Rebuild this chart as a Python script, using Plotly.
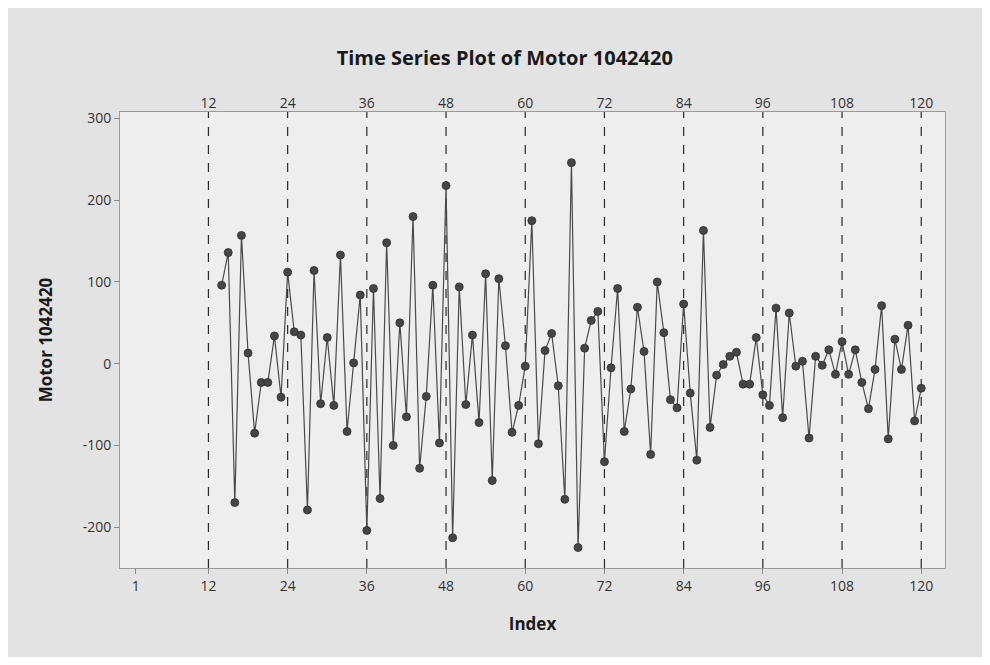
import plotly.graph_objects as go

# Data: index 14..120 (first 13 values missing after differencing)
start_index = 14
values = [96, 136, -170, 157, 13, -85, -23, -23, 34, -41,
          112, 39, 35, -179, 114, -49, 32, -51, 133, -83,
          1, 84, -204, 92, -165, 148, -100, 50, -65, 180,
          -128, -40, 96, -97, 218, -213, 94, -50, 35, -72,
          110, -143, 104, 22, -84, -51, -3, 175, -98, 16,
          37, -27, -166, 246, -225, 19, 53, 64, -120, -5,
          92, -83, -31, 69, 15, -111, 100, 38, -44, -54,
          73, -36, -118, 163, -78, -14, -1, 9, 14, -25,
          -25, 32, -38, -51, 68, -66, 62, -3, 3, -91,
          9, -2, 17, -13, 27, -13, 17, -23, -55, -7,
          71, -92, 30, -7, 47, -70, -30]
index = list(range(start_index, start_index + len(values)))

bottom_ticks = [1, 12, 24, 36, 48, 60, 72, 84, 96, 108, 120]
ref_lines = [12, 24, 36, 48, 60, 72, 84, 96, 108, 120]
y_ticks = [-200, -100, 0, 100, 200, 300]

font_family = "Open Sans, Noto Sans, sans-serif"
xrange = [-1.4, 123.6]

fig = go.Figure()
fig.add_trace(go.Scatter(
    x=index, y=values, mode="lines+markers",
    line=dict(color="#4a4a4a", width=1.2),
    marker=dict(color="#454545", size=8, line=dict(color="#2e2e2e", width=0.8)),
    showlegend=False, hoverinfo="x+y",
))
# invisible trace to activate top axis
fig.add_trace(go.Scatter(x=[ref_lines[0]], y=[0], xaxis="x2", mode="markers",
                         marker=dict(opacity=0), showlegend=False, hoverinfo="skip"))

shapes = [dict(type="line", xref="x", yref="paper", x0=r, x1=r, y0=0, y1=1,
               line=dict(color="#2a2a2a", width=1.2, dash="dash"), layer="below")
          for r in ref_lines]

fig.update_layout(
    width=974, height=649,
    paper_bgcolor="#e3e3e3", plot_bgcolor="#eeeeee",
    margin=dict(l=112, r=37, t=104, b=89),
    title=dict(text="<b>Time Series Plot of Motor 1042420</b>", x=0.51, xanchor="center",
               y=0.923, yanchor="middle",
               font=dict(family=font_family, size=20, color="#1a1a1a")),
    font=dict(family=font_family, color="#333333"),
    shapes=shapes,
    xaxis=dict(range=xrange, tickmode="array", tickvals=bottom_ticks,
               ticktext=[str(t) for t in bottom_ticks],
               ticks="outside", ticklen=5, tickcolor="#888888",
               showgrid=False, zeroline=False,
               showline=True, linecolor="#9a9a9a", linewidth=1, mirror=True,
               tickfont=dict(size=14, color="#333333"),
               title=dict(text="<b>Index</b>", font=dict(size=17, color="#1a1a1a"), standoff=24)),
    xaxis2=dict(range=xrange, overlaying="x", side="top", tickmode="array",
                tickvals=ref_lines, ticktext=[str(t) for t in ref_lines],
                ticks="", showgrid=False, zeroline=False, showline=False,
                tickfont=dict(size=14, color="#333333")),
    yaxis=dict(range=[-250, 308], tickmode="array", tickvals=y_ticks,
               ticktext=[str(t) for t in y_ticks],
               ticks="outside", ticklen=5, tickcolor="#888888",
               showgrid=False, zeroline=False,
               showline=True, linecolor="#9a9a9a", linewidth=1, mirror=True,
               tickfont=dict(size=14, color="#333333"),
               title=dict(text="<b>Motor 1042420</b>", font=dict(size=17, color="#1a1a1a"), standoff=25)),
)

fig.write_html("out.html")
